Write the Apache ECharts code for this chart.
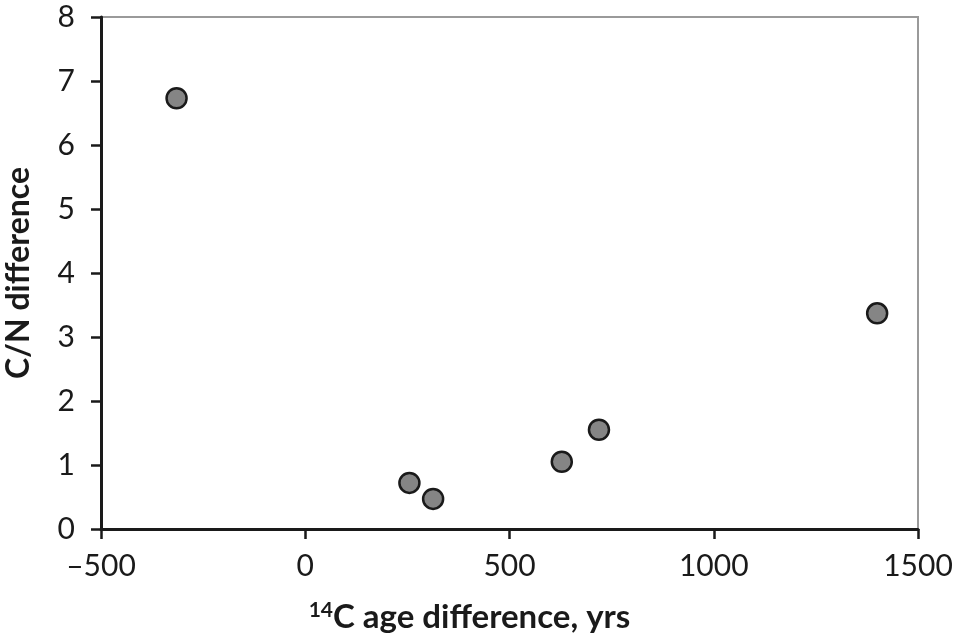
<!DOCTYPE html>
<html>
<head>
<meta charset="utf-8">
<script src="https://cdn.jsdelivr.net/npm/echarts@6/dist/echarts.min.js"></script>
<style>html,body{margin:0;padding:0;background:#fff}#c{width:956px;height:641px}</style>
</head>
<body>
<div id="c"></div>
<script>
const ageDiff = [-315, 255, 313, 628, 719, 1400];
const cnDiff = [6.73, 0.72, 0.47, 1.05, 1.55, 3.37];
const xTicks = [-500, 0, 500, 1000, 1500];
const yTicks = [0, 1, 2, 3, 4, 5, 6, 7, 8];

const chart = echarts.init(document.getElementById('c'));
const font = 'Lato, "Open Sans", sans-serif';
chart.setOption({
  animation: false,
  backgroundColor: '#fff',
  grid: { left: 101, right: 38, top: 17, bottom: 112, show: true, borderColor: '#9a9a9a', borderWidth: 2,
    outerBoundsMode: 'none', containLabel: false },
  xAxis: {
    type: 'value', min: xTicks[0], max: xTicks[xTicks.length - 1], interval: 500,
    axisLine: { lineStyle: { color: '#1a1a1a', width: 3 } },
    axisTick: { inside: false, length: 10, lineStyle: { color: '#1a1a1a', width: 2.5 } },
    splitLine: { show: false },
    axisLabel: { fontSize: 30, color: '#1a1a1a', fontFamily: font, margin: 22,
      formatter: v => v < 0 ? '\u2013' + Math.abs(v) : String(v) },
    name: '{sup|14}{b|C age difference, yrs}',
    nameLocation: 'middle', nameGap: 71,
    nameTextStyle: {
      padding: [0, 80, 0, 0],
      rich: {
        sup: { fontSize: 21, fontWeight: 'bold', color: '#1a1a1a', fontFamily: font, verticalAlign: 'top', lineHeight: 34 },
        b: { fontSize: 33, fontWeight: 'bold', color: '#1a1a1a', fontFamily: font, lineHeight: 34 }
      }
    }
  },
  yAxis: {
    type: 'value', min: yTicks[0], max: yTicks[yTicks.length - 1], interval: 1,
    axisLine: { show: true, onZero: false, lineStyle: { color: '#1a1a1a', width: 3 } },
    axisTick: { show: true, inside: false, length: 10, lineStyle: { color: '#1a1a1a', width: 2.5 } },
    splitLine: { show: false },
    axisLabel: { fontSize: 30, color: '#1a1a1a', fontFamily: font, margin: 26 },
    name: 'C/N difference', nameLocation: 'middle', nameRotate: 90, nameGap: 66,
    nameTextStyle: { fontSize: 32, fontWeight: 'bold', color: '#1a1a1a', fontFamily: font }
  },
  series: [{
    type: 'scatter',
    data: ageDiff.map((x, i) => [x, cnDiff[i]]),
    symbol: 'circle', symbolSize: 20,
    itemStyle: { color: '#858585', borderColor: '#1a1a1a', borderWidth: 2.5, opacity: 1 }
  }]
});
</script>
</body>
</html>
